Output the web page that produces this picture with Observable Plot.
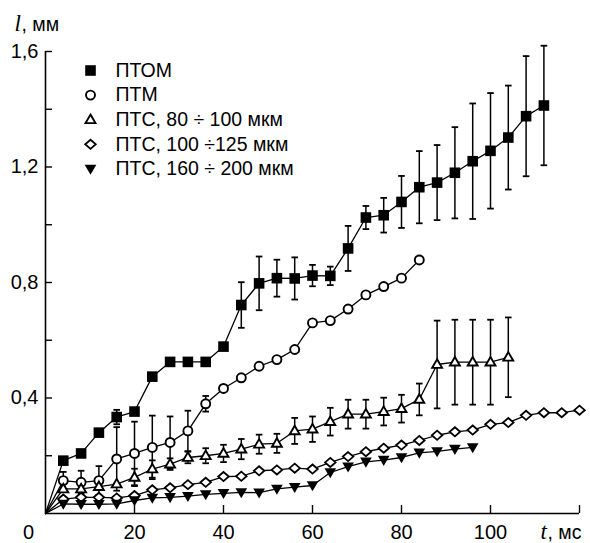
<!DOCTYPE html>
<html><head><meta charset="utf-8">
<script src="https://cdn.jsdelivr.net/npm/d3@7"></script>
<script src="https://cdn.jsdelivr.net/npm/@observablehq/plot@0.6"></script>
<style>
body{margin:0;background:#fff;}
#chart svg{font-family:"Liberation Sans",Arial,sans-serif;}
</style>
</head><body><div id="chart"></div>
<script>
// ---- data (t in ms, l in mm) ----
const seriesNames = ["ПТОМ", "ПТМ", "ПТС, 80 ÷ 100 мкм", "ПТС, 100 ÷125 мкм", "ПТС, 160 ÷ 200 мкм"];

const tPTOM = [4,8,12,16,20,24,28,32,36,40,44,48,52,56,60,64,68,72,76,80,84,88,92,96,100,104,108,112];
const lPTOM = [0.183,0.208,0.28,0.334,0.353,0.474,0.525,0.525,0.525,0.578,0.722,0.797,0.815,0.814,0.824,0.823,0.918,1.025,1.033,1.079,1.13,1.146,1.18,1.22,1.256,1.302,1.376,1.413];
const ePTOM = [0,0,0,0.025,0,0,0,0,0,0,0.079,0.093,0.064,0.073,0.037,0.032,0.078,0.04,0.06,0.09,0.125,0.13,0.158,0.2,0.2,0.18,0.208,0.207];

const tPTM = [4,8,12,16,20,24,28,32,36,40,44,48,52,56,60,64,68,72,76,80,84];
const lPTM = [0.114,0.108,0.114,0.189,0.208,0.229,0.246,0.286,0.38,0.433,0.47,0.51,0.533,0.568,0.66,0.668,0.708,0.757,0.786,0.815,0.878];
const ePTM = [0.03,0.04,0.05,0.11,0.11,0.11,0.09,0.07,0.027,0,0,0,0,0,0,0,0,0,0,0,0];

const tPTS80 = [4,8,12,16,20,24,28,32,36,40,44,48,52,56,60,64,68,72,76,80,84,88,92,96,100,104];
const lPTS80 = [0.085,0.085,0.093,0.102,0.125,0.154,0.171,0.194,0.2,0.208,0.223,0.24,0.243,0.286,0.292,0.318,0.344,0.344,0.353,0.363,0.395,0.516,0.524,0.524,0.524,0.541];
const ePTS80 = [0,0,0,0,0.03,0.03,0.02,0.02,0.026,0.03,0.035,0.033,0.033,0.045,0.044,0.048,0.05,0.05,0.048,0.048,0.055,0.152,0.147,0.147,0.147,0.138];

const tPTS100 = [4,8,12,16,20,24,28,32,36,40,44,48,52,56,60,64,68,72,76,80,84,88,92,96,100,104,108,112,116,120];
const lPTS100 = [0.05,0.056,0.056,0.054,0.062,0.082,0.089,0.1,0.108,0.128,0.129,0.148,0.151,0.157,0.154,0.177,0.197,0.214,0.226,0.237,0.253,0.271,0.283,0.289,0.309,0.315,0.34,0.349,0.349,0.358];

const tPTS160 = [4,8,12,16,20,24,28,32,36,40,44,48,52,56,60,64,68,72,76,80,84,88,92,96];
const lPTS160 = [0.033,0.032,0.032,0.033,0.045,0.054,0.056,0.06,0.066,0.07,0.073,0.072,0.085,0.091,0.097,0.142,0.162,0.179,0.185,0.194,0.21,0.215,0.223,0.229];

const origin = {t: 0, l: 0};
const yTicksMinor = [0.2,0.4,0.6,0.8,1.0,1.2,1.4,1.6];
const yTicksLabeled = [0.4,0.8,1.2,1.6];
const xTicks = [20,40,60,80,100,120];
const xTicksLabeled = [20,40,60,80,100];

// ---- symbols ----
const R = s => Math.sqrt(s / Math.PI);
const symSquare = {draw(c, s){const r = R(s); c.rect(-r, -r, 2*r, 2*r);}};
const symCircle = {draw(c, s){const r = R(s); c.moveTo(r, 0); c.arc(0, 0, r, 0, 2*Math.PI);}};
const symTriUp = {draw(c, s){const r = R(s); c.moveTo(0, -r*1.15); c.lineTo(r*1.1, r*0.75); c.lineTo(-r*1.1, r*0.75); c.closePath();}};
const symDiamond = {draw(c, s){const r = R(s); c.moveTo(0, -r*0.95); c.lineTo(r*1.1, 0); c.lineTo(0, r*0.95); c.lineTo(-r*1.1, 0); c.closePath();}};
const symTriDown = {draw(c, s){const r = R(s); c.moveTo(0, r*1.1); c.lineTo(r*1.1, -r*0.8); c.lineTo(-r*1.1, -r*0.8); c.closePath();}};
const symCap = {draw(c, s){const r = R(s); c.moveTo(-r, 0); c.lineTo(r, 0);}};

const mk = (t, l, e) => t.map((ti, i) => ({t: ti, l: l[i], e: e ? e[i] : 0}));
const series = [
  {name: seriesNames[0], pts: mk(tPTOM, lPTOM, ePTOM), sym: symSquare, r: 5.3, fill: "black", stroke: "none", sw: 0},
  {name: seriesNames[1], pts: mk(tPTM, lPTM, ePTM), sym: symCircle, r: 4.5, fill: "white", stroke: "black", sw: 1.9},
  {name: seriesNames[2], pts: mk(tPTS80, lPTS80, ePTS80), sym: symTriUp, r: 4.5, fill: "white", stroke: "black", sw: 1.9},
  {name: seriesNames[3], pts: mk(tPTS100, lPTS100), sym: symDiamond, r: 4.8, fill: "white", stroke: "black", sw: 1.8},
  {name: seriesNames[4], pts: mk(tPTS160, lPTS160), sym: symTriDown, r: 5.3, fill: "black", stroke: "none", sw: 0}
];

const marks = [];
// axis lines
marks.push(Plot.ruleX([0], {stroke: "black", strokeWidth: 1.6}));
marks.push(Plot.ruleY([0], {stroke: "black", strokeWidth: 1.6}));
// ticks (inward) and labels
const fmt = d => d.toFixed(1).replace(".", ",");
const tickFont = {fontSize: 20, fill: "black", letterSpacing: "0.5px"};
marks.push(Plot.axisY({ticks: yTicksMinor, tickSize: -7, tickFormat: () => "", strokeWidth: 1.4, label: null}));
marks.push(Plot.axisY({ticks: yTicksLabeled, tickSize: 0, tickPadding: 7, tickFormat: fmt, label: null, ...tickFont}));
marks.push(Plot.axisX({ticks: xTicks, tickSize: -8, tickFormat: () => "", strokeWidth: 1.4, label: null}));
marks.push(Plot.axisX({ticks: xTicksLabeled, tickSize: 0, tickPadding: 11, label: null, ...tickFont}));
marks.push(Plot.axisX({ticks: [0], tickSize: 0, tickPadding: 11, dx: -17, label: null, ...tickFont}));

// lines
for (const s of series) {
  marks.push(Plot.line([origin, ...s.pts], {x: "t", y: "l", stroke: "black", strokeWidth: 1.3}));
}
// error bars
for (const s of series) {
  const eb = s.pts.filter(d => d.e > 0);
  if (!eb.length) continue;
  marks.push(Plot.ruleX(eb, {x: "t", y1: d => d.l - d.e, y2: d => d.l + d.e, stroke: "black", strokeWidth: 1.5}));
  marks.push(Plot.dot(eb, {x: "t", y: d => d.l - d.e, symbol: symCap, r: 3.3, stroke: "black", strokeWidth: 1.8, fill: "none"}));
  marks.push(Plot.dot(eb, {x: "t", y: d => d.l + d.e, symbol: symCap, r: 3.3, stroke: "black", strokeWidth: 1.8, fill: "none"}));
}
// markers
for (const s of series) {
  marks.push(Plot.dot(s.pts, {x: "t", y: "l", symbol: s.sym, r: s.r, fill: s.fill, stroke: s.stroke, strokeWidth: s.sw}));
}
// legend
series.forEach((s, i) => {
  const dy = 19 + i * 24.6;
  marks.push(Plot.dot([s.name], {frameAnchor: "top-left", dx: 45, dy, symbol: s.sym, r: s.r, fill: s.fill, stroke: s.stroke, strokeWidth: s.sw}));
  marks.push(Plot.text([s.name], {frameAnchor: "top-left", dx: 70, dy, text: d => d, textAnchor: "start", lineAnchor: "middle", fontSize: 19.5, fill: "black"}));
});
// axis titles
const serif = "'Liberation Serif','DejaVu Serif',serif";
marks.push(Plot.text(["l"], {frameAnchor: "top-left", dx: -31, dy: -21, text: d => d, textAnchor: "start", lineAnchor: "bottom", fontSize: 23, fontStyle: "italic", fontFamily: serif, fill: "black"}));
marks.push(Plot.text([", мм"], {frameAnchor: "top-left", dx: -24, dy: -21, text: d => d, textAnchor: "start", lineAnchor: "bottom", fontSize: 19.5, fill: "black"}));
marks.push(Plot.text(["t"], {frameAnchor: "bottom-right", dx: -39, dy: 25, text: d => d, textAnchor: "start", lineAnchor: "bottom", fontSize: 23, fontStyle: "italic", fontFamily: serif, fill: "black"}));
marks.push(Plot.text([", мс"], {frameAnchor: "bottom-right", dx: -32, dy: 25, text: d => d, textAnchor: "start", lineAnchor: "bottom", fontSize: 19.5, fill: "black"}));

const chart = Plot.plot({
  width: 590, height: 543,
  marginTop: 51, marginBottom: 30, marginLeft: 45, marginRight: 11,
  x: {domain: [0, 120], label: null},
  y: {domain: [0, 1.6], label: null},
  style: {background: "white", color: "black"},
  marks
});
document.getElementById("chart").appendChild(chart);
</script>
</body></html>
